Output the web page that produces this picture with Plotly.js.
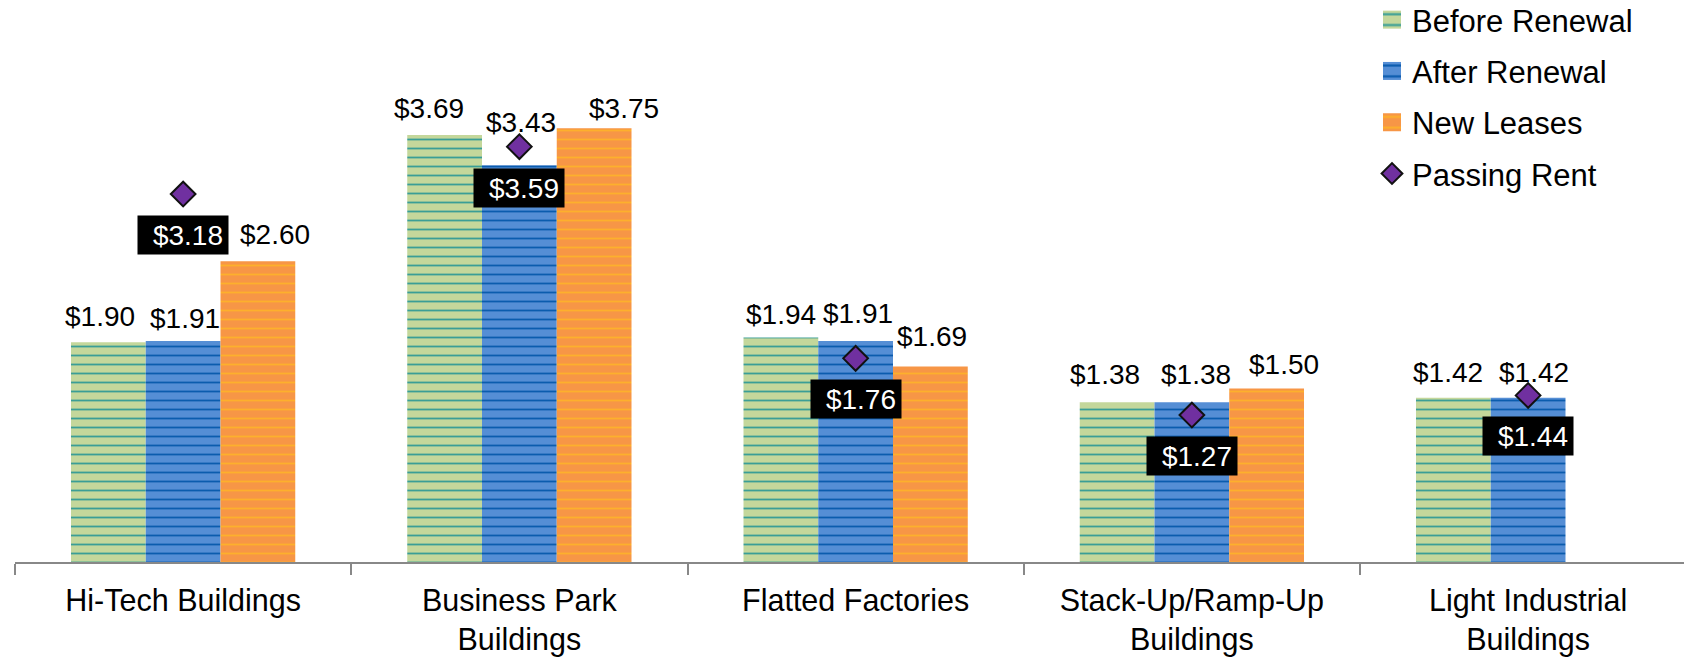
<!DOCTYPE html>
<html>
<head>
<meta charset="utf-8">
<script src="https://cdn.plot.ly/plotly-3.0.1.min.js"></script>
<style>
  html, body { margin: 0; padding: 0; background: #fff; }
  #chart { width: 1684px; height: 657px; }
</style>
</head>
<body>
<div id="chart"></div>
<script>
// ---- Data ----
const categories = [
  "Hi-Tech Buildings",
  "Business Park<br>Buildings",
  "Flatted Factories",
  "Stack-Up/Ramp-Up<br>Buildings",
  "Light Industrial<br>Buildings"
];
const beforeRenewal = [1.90, 3.69, 1.94, 1.38, 1.42];
const afterRenewal  = [1.91, 3.43, 1.91, 1.38, 1.42];
const newLeases     = [2.60, 3.75, 1.69, 1.50, null];
const passingRent   = [3.18, 3.59, 1.76, 1.27, 1.44];
const seriesNames   = ["Before Renewal", "After Renewal", "New Leases", "Passing Rent"];

// ---- Style / layout settings (not data) ----
const FONT = '"Liberation Sans", Arial, Helvetica, sans-serif';
const BARGAP = 0.333;
const barSeries = [beforeRenewal, afterRenewal, newLeases];
const barStyles = [
  { bg: '#C4D79B', fg: '#3A9E96' },
  { bg: '#558ED5', fg: '#0B5CAE' },
  { bg: '#F79646', fg: '#FDB02C' }
];
// manual label nudges (px): [dx, gap above bar top]
const labelNudge = [
  [[-8, 15], [-16, 16], [0, 13], [-12, 17], [-5, 15]],
  [[2, 12], [2, 32], [2, 17], [4, 17], [6, 15]],
  [[17, 16], [30, 9], [2, 19], [17, 13], [0, 15]]
];

const fmt = v => '$' + v.toFixed(2);

const traces = barSeries.map((vals, i) => ({
  type: 'bar',
  name: seriesNames[i],
  x: categories,
  y: vals,
  legendgroup: 'g' + i,
  marker: {
    color: barStyles[i].bg,
    line: { width: 0 },
    pattern: {
      shape: '-',
      fgcolor: barStyles[i].fg,
      bgcolor: barStyles[i].bg,
      size: 9,
      solidity: 0.2,
      fillmode: 'replace'
    }
  },
  hoverinfo: 'skip'
}));

traces.push({
  type: 'scatter',
  mode: 'markers',
  name: seriesNames[3],
  x: categories,
  y: passingRent,
  legendgroup: 'g3',
  marker: { symbol: 'diamond', size: 19, color: '#7030A0', line: { color: '#111', width: 2 } },
  hoverinfo: 'skip',
  cliponaxis: false
});

// annotations: bar value labels
const annotations = [];
const slotW = (1 - BARGAP) / 3;
barSeries.forEach((vals, i) => {
  vals.forEach((v, j) => {
    if (v === null) return;
    const n = labelNudge[i][j];
    annotations.push({
      xref: 'x', yref: 'y',
      x: j + (i - 1) * slotW, y: v,
      text: fmt(v),
      showarrow: false,
      xanchor: 'center', yanchor: 'bottom',
      xshift: n[0], yshift: n[1] - 7,
      font: { family: FONT, size: 28, color: '#000' }
    });
  });
});
// annotations: passing rent labels (black boxes)
passingRent.forEach((v, j) => {
  annotations.push({
    xref: 'x', yref: 'y',
    x: j, y: v,
    text: fmt(v),
    showarrow: false,
    xanchor: 'center', yanchor: 'middle',
    yshift: -41,
    width: 80, height: 28, borderpad: 5,
    align: 'right',
    bgcolor: '#000',
    font: { family: FONT, size: 28, color: '#fff' }
  });
});

const pxPerCat = 336.25;
const plotW = 1684 - 15;
const layout = {
  width: 1684, height: 657,
  margin: { l: 15, r: 0, t: 0, b: 95, pad: 0, autoexpand: false },
  paper_bgcolor: '#fff', plot_bgcolor: '#fff',
  barmode: 'group',
  bargap: BARGAP,
  bargroupgap: 0,
  font: { family: FONT, color: '#000' },
  showlegend: true,
  legend: {
    x: (1372 - 15) / plotW, xanchor: 'left',
    y: 1.0, yanchor: 'top',
    xref: 'paper', yref: 'paper',
    bgcolor: 'rgba(0,0,0,0)',
    font: { family: FONT, size: 31, color: '#000' },
    traceorder: 'grouped',
    tracegroupgap: 8
  },
  xaxis: {
    type: 'category',
    automargin: false,
    range: [-0.5, -0.5 + plotW / pxPerCat],
    showline: true, linecolor: '#888', linewidth: 2,
    ticks: 'outside', tickson: 'boundaries', ticklen: 11, tickcolor: '#888', tickwidth: 2,
    ticklabelstandoff: 10,
    showgrid: false, zeroline: false,
    tickfont: { family: FONT, size: 30.5, color: '#000' },
    fixedrange: true
  },
  yaxis: {
    range: [0, 562 / 115.7],
    visible: false,
    showgrid: false, zeroline: false,
    fixedrange: true
  },
  annotations: annotations
};

Plotly.newPlot('chart', traces, layout, { staticPlot: true, displayModeBar: false }).then(gd => {
  // enlarge the bar legend swatches to match the reference (~18px squares)
  gd.querySelectorAll('.legend .legendpoints path').forEach(p => {
    if (p.classList.contains('scatterpts')) return;
    const t = p.getAttribute('transform') || '';
    p.setAttribute('transform', t + ' scale(1.5)');
  });
  // nudge the legend block up slightly
  const lg = gd.querySelector('.legend');
  if (lg) {
    const t = lg.getAttribute('transform') || '';
    const m = t.match(/translate\(\s*([-\d.]+)[ ,]+([-\d.]+)\s*\)/);
    if (m) lg.setAttribute('transform', 'translate(' + m[1] + ',' + (parseFloat(m[2]) - 7) + ')');
  }
});
</script>
</body>
</html>
